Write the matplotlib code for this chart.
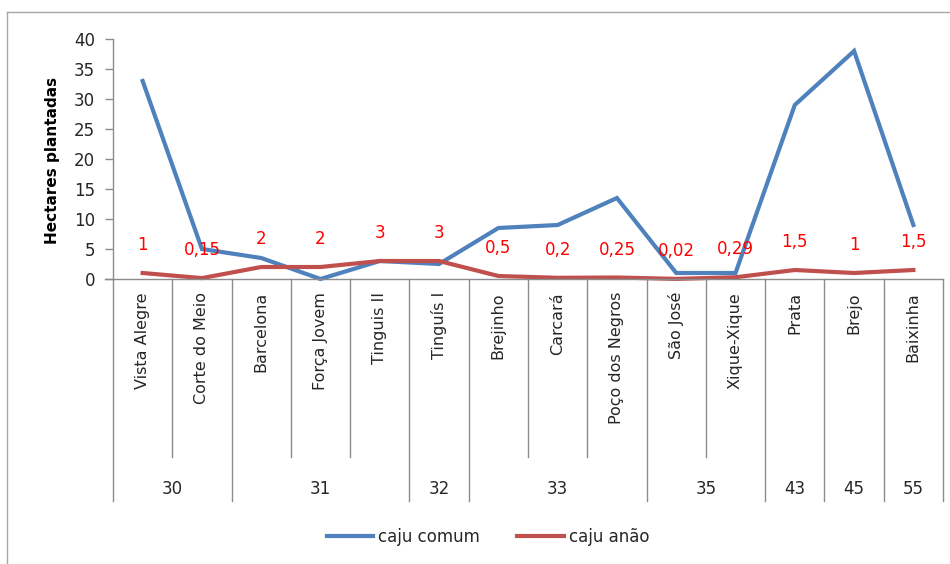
import matplotlib.pyplot as plt
from matplotlib.lines import Line2D
import numpy as np

# hectares planted per community
COMUNIDADES = ["Vista Alegre", "Corte do Meio", "Barcelona", "Força Jovem", "Tinguis II",
               "Tinguís I", "Brejinho", "Carcará", "Poço dos Negros", "São José",
               "Xique-Xique", "Prata", "Brejo", "Baixinha"]
CAJU_COMUM = [33, 5, 3.5, 0, 3, 2.5, 8.5, 9, 13.5, 1, 1, 29, 38, 9]
CAJU_ANAO = [1, 0.15, 2, 2, 3, 3, 0.5, 0.2, 0.25, 0.02, 0.29, 1.5, 1, 1.5]
ROTULOS_ANAO = ["1", "0,15", "2", "2", "3", "3", "0,5", "0,2", "0,25", "0,02", "0,29", "1,5", "1", "1,5"]

# outer grouping level (first and last community index of each group)
GRUPOS = ["30", "31", "32", "33", "35", "43", "45", "55"]
GRUPO_LIMITES = [(0, 1), (2, 4), (5, 5), (6, 8), (9, 10), (11, 11), (12, 12), (13, 13)]

AZUL = "#4F81BD"
VERMELHO = "#C0504D"
CINZA = "#8C8C8C"
TEXTO = "#262626"

W, H = 950, 564
fig = plt.figure(figsize=(W / 100, H / 100), dpi=100)
ax_left, ax_right, ax_top, ax_bottom = 113, 943, 39, 279
ax = fig.add_axes([ax_left / W, 1 - ax_bottom / H, (ax_right - ax_left) / W, (ax_bottom - ax_top) / H])

n = len(COMUNIDADES)
x = np.arange(n) + 0.5

ax.plot(x, CAJU_COMUM, color=AZUL, lw=3, solid_joinstyle="miter", label="caju comum", clip_on=False)
ax.plot(x, CAJU_ANAO, color=VERMELHO, lw=3, label="caju anão", clip_on=False)

for xi, yi, txt in zip(x, CAJU_ANAO, ROTULOS_ANAO):
    ax.annotate(txt, (xi, yi), xytext=(0, 20), textcoords="offset points",
                ha="center", va="center", color="red", fontsize=12)

ax.set_xlim(0, n)
ax.set_ylim(0, 40)
ax.set_yticks(range(0, 41, 5))
ax.set_xticks([])
ax.tick_params(axis="y", direction="out", length=6, width=1, color=CINZA,
               labelsize=12, labelcolor=TEXTO, pad=7)
for side in ("top", "right"):
    ax.spines[side].set_visible(False)
for side in ("left", "bottom"):
    ax.spines[side].set_color(CINZA)
    ax.spines[side].set_linewidth(1)

# multi-level category axis drawn under the plot
ax_h = ax_bottom - ax_top
def frac(py):
    return (ax_bottom - py) / ax_h

trans = ax.get_xaxis_transform()
ax.plot([-0.13, 0], [0, 0], transform=trans, color=CINZA, lw=1, clip_on=False)

group_edges = {0}
for a, b in GRUPO_LIMITES:
    group_edges.add(a)
    group_edges.add(b + 1)
for k in range(n + 1):
    y_end = frac(501) if k in group_edges else frac(457)
    ax.plot([k, k], [0, y_end], transform=trans, color=CINZA, lw=1, clip_on=False)

for xi, nome in zip(x, COMUNIDADES):
    ax.text(xi, frac(292), nome, transform=trans, rotation=90, ha="center", va="top",
            fontsize=11.5, color=TEXTO)

for rot, (a, b) in zip(GRUPOS, GRUPO_LIMITES):
    ax.text((a + b + 1) / 2, frac(489), rot, transform=trans, ha="center", va="center",
            fontsize=12, color=TEXTO)

fig.text(53 / W, 1 - 160 / H, "Hectares plantadas", rotation=90, ha="center", va="center",
         fontsize=11, fontweight="bold", color="black")

fig.legend(handles=[Line2D([], [], color=AZUL, lw=3, label="caju comum"),
                    Line2D([], [], color=VERMELHO, lw=3, label="caju anão")],
           loc="center", bbox_to_anchor=(488 / W, 1 - 537 / H), ncol=2, frameon=False,
           fontsize=12, handlelength=2.8, handletextpad=0.3, columnspacing=2.2,
           labelcolor=TEXTO)

# chart border (left and top edges)
fig.add_artist(Line2D([7 / W, 7 / W], [0, 1 - 12 / H], color="#A6A6A6", lw=1))
fig.add_artist(Line2D([7 / W, 1], [1 - 12 / H, 1 - 12 / H], color="#A6A6A6", lw=1))

fig.savefig("out.png", dpi=100)
